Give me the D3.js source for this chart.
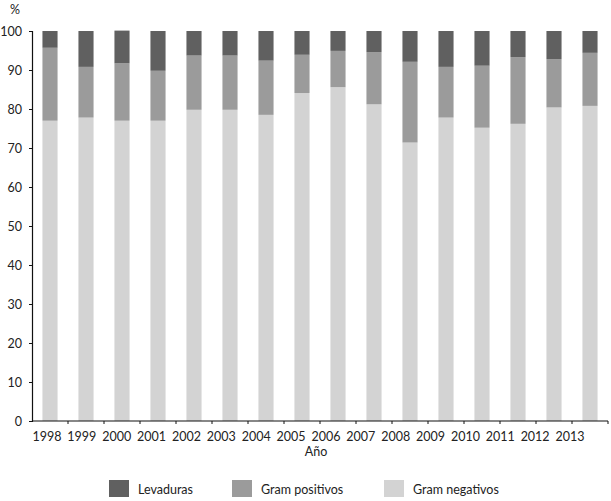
<!DOCTYPE html>
<html><head><meta charset="utf-8">
<script src="https://cdn.jsdelivr.net/npm/d3@7"></script>
<style>
html,body{margin:0;padding:0;background:#fff;}
svg text{font-family:"Lato","Open Sans",sans-serif;fill:#222;}
</style></head>
<body><svg id="chart" width="611" height="501"></svg>
<script>
const years = ["1998","1999","2000","2001","2002","2003","2004","2005","2006","2007","2008","2009","2010","2011","2012","2013"];
const gramNegativos = [77.0,77.8,77.0,77.0,79.8,79.8,78.5,84.1,85.6,81.2,71.4,77.8,75.2,76.2,80.4,80.8];
const gramPositivos = [18.7,13.0,14.7,12.8,13.9,13.9,13.9,9.8,9.3,13.4,20.7,13.0,15.9,17.1,12.4,13.6];
const levaduras = [4.3,9.2,8.4,10.2,6.3,6.3,7.6,6.1,5.1,5.4,7.9,9.2,8.9,6.7,7.2,5.6];
const seriesNames = ["Gram negativos","Gram positivos","Levaduras"];
const legendOrder = ["Levaduras","Gram positivos","Gram negativos"];
const yTicks = [0,10,20,30,40,50,60,70,80,90,100];

const colors = {"Levaduras":"#606060","Gram positivos":"#9b9b9b","Gram negativos":"#d3d3d3"};

const svg = d3.select("#chart");
const mLeft = 32, mRight = 608, mTop = 31, mBottom = 421;

const table = years.map((y,i)=>({year:y,"Gram negativos":gramNegativos[i],"Gram positivos":gramPositivos[i],"Levaduras":levaduras[i]}));
const stacked = d3.stack().keys(seriesNames)(table);

const x = d3.scaleBand().domain(years).range([mLeft,mRight]).paddingInner(0.58).paddingOuter(0.29);
const xLabel = d3.scalePoint().domain(years).range([47,570]);
const y = d3.scaleLinear().domain([0,100]).range([mBottom,mTop]);

svg.append("g").selectAll("g").data(stacked).join("g")
  .attr("fill", d=>colors[d.key])
  .selectAll("rect").data(d=>d).join("rect")
  .attr("x", d=>x(d.data.year))
  .attr("width", x.bandwidth())
  .attr("y", d=>y(d[1]))
  .attr("height", d=>y(d[0])-y(d[1]));

// y axis
const yAxis = d3.axisLeft(y).tickValues(yTicks).tickSize(3).tickPadding(7);
const gy = svg.append("g").attr("transform",`translate(${mLeft},0)`).call(yAxis);
gy.select(".domain").attr("stroke","#111").attr("stroke-width",1.2);
gy.selectAll(".tick line").attr("stroke","#111");
gy.selectAll("text").attr("font-size",12.5).attr("font-family","Lato").attr("fill","#222");

// x axis: ticks at band boundaries
const boundaries = years.map(d=>x(d)-x.step()*x.paddingInner()/2).slice(1).concat([mRight]);
const gx = svg.append("g").attr("transform",`translate(0,${mBottom})`);
gx.append("line").attr("x1",mLeft).attr("x2",mRight).attr("stroke","#111").attr("stroke-width",1.2);
gx.selectAll("line.tk").data(boundaries).join("line").attr("class","tk")
  .attr("x1",d=>d).attr("x2",d=>d).attr("y1",0).attr("y2",3).attr("stroke","#111");
gx.selectAll("text").data(years).join("text")
  .attr("x",d=>xLabel(d)).attr("y",20).attr("text-anchor","middle")
  .attr("font-size",12.5).text(d=>d);

svg.append("text").attr("x",mLeft-17).attr("y",14).attr("text-anchor","middle").attr("font-size",12.5).text("%");
svg.append("text").attr("x",316).attr("y",456).attr("text-anchor","middle").attr("font-size",12.5).text("Año");

// legend
const legX = {"Levaduras":109,"Gram positivos":232,"Gram negativos":384};
const lg = svg.append("g").selectAll("g").data(legendOrder).join("g")
  .attr("transform",d=>`translate(${legX[d]},480)`);
lg.append("rect").attr("width",20).attr("height",17).attr("fill",d=>colors[d]);
lg.append("text").attr("x",29).attr("y",13.5).attr("font-size",12.5).text(d=>d);
</script></body></html>
